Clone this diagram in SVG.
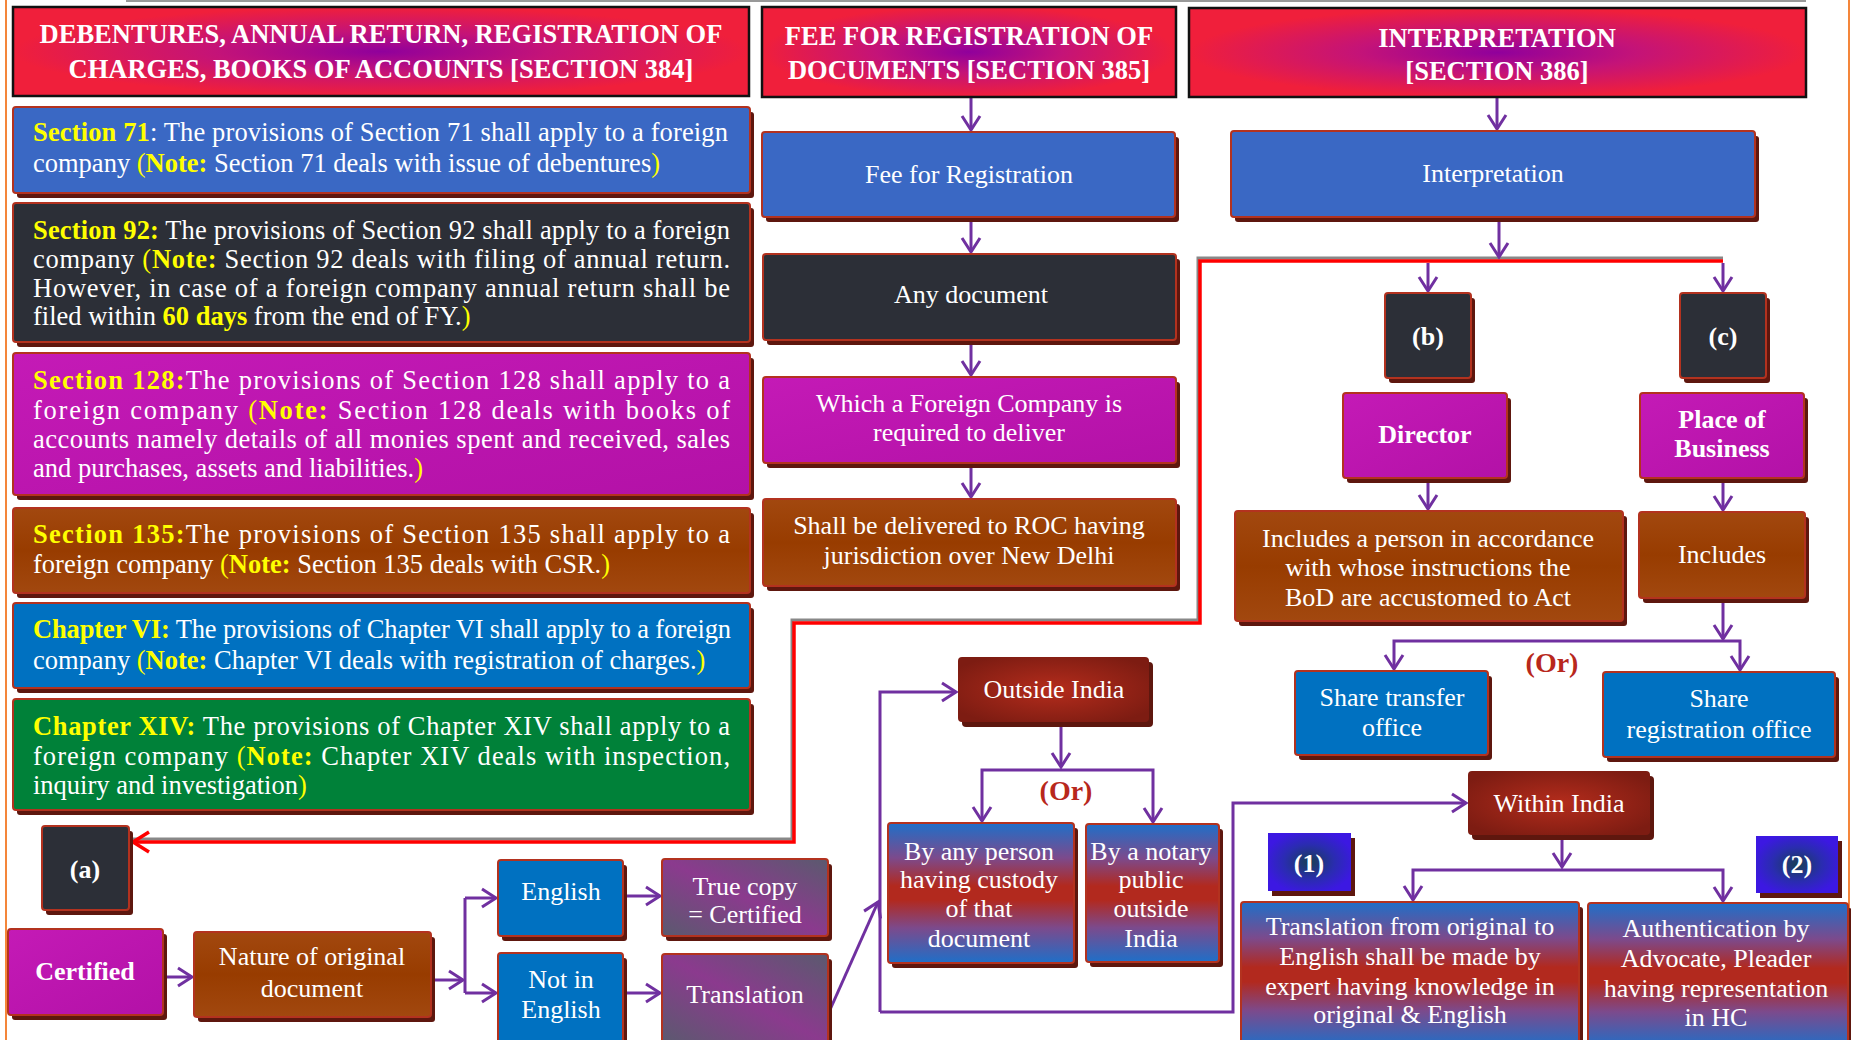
<svg xmlns="http://www.w3.org/2000/svg" width="1851" height="1040" viewBox="0 0 1851 1040">
<defs>
<style>
text{font-family:"Liberation Serif","Times New Roman",serif;fill:#fff}
.nt{font-size:26px;text-anchor:middle}
.hd{font-size:26.5px;font-weight:bold;text-anchor:middle}
.st{font-size:26.5px}
.b{font-weight:bold}
.y{fill:#ffff00}
.or{fill:#b8281c;font-weight:bold;font-size:28px;text-anchor:middle}
.box{stroke:#b3321f;stroke-width:2}
.sh{fill:#5e170e}
.hdr{stroke:#111;stroke-width:2.5;fill:url(#gHdr)}
.cn{stroke:#7030a0;stroke-width:3;fill:none;marker-end:url(#ah)}
.cnp{stroke:#7030a0;stroke-width:3;fill:none}
.red{stroke:#ff0000;stroke-width:3.5;fill:none}
.redsh{stroke:#888;stroke-width:3;fill:none}
.blue1{fill:#3a68c4}
.dark{fill:#2c2f37}
.mag{fill:url(#gMag)}
.brn{fill:url(#gBrn)}
.blue2{fill:#0071c1}
.grn{fill:#008139}
.drd{fill:url(#gDrd)}
.bgr{fill:url(#gBR)}
.pg{fill:url(#gPG)}
.num{fill:url(#gNum)}
</style>
<radialGradient id="gHdr" cx="0.5" cy="0.5" r="0.5">
<stop offset="0" stop-color="#90009c"/>
<stop offset="0.45" stop-color="#c41378"/>
<stop offset="1" stop-color="#f01f3b"/>
</radialGradient>
<linearGradient id="gMag" x1="0" y1="0" x2="1" y2="1">
<stop offset="0" stop-color="#c41ab6"/>
<stop offset="1" stop-color="#b311a7"/>
</linearGradient>
<linearGradient id="gBrn" x1="0" y1="0" x2="0" y2="1">
<stop offset="0" stop-color="#a2480f"/>
<stop offset="0.5" stop-color="#983c00"/>
<stop offset="1" stop-color="#a2480f"/>
</linearGradient>
<radialGradient id="gDrd" cx="0.5" cy="0.5" r="0.6">
<stop offset="0" stop-color="#b42c1c"/>
<stop offset="1" stop-color="#7d1c12"/>
</radialGradient>
<linearGradient id="gBR" x1="0" y1="0" x2="0" y2="1">
<stop offset="0" stop-color="#1f6fc8"/>
<stop offset="0.25" stop-color="#7c4a8c"/>
<stop offset="0.45" stop-color="#b2291e"/>
<stop offset="0.55" stop-color="#b2291e"/>
<stop offset="0.75" stop-color="#7c4a8c"/>
<stop offset="1" stop-color="#1f6fc8"/>
</linearGradient>
<linearGradient id="gPG" x1="1" y1="0" x2="0" y2="1">
<stop offset="0" stop-color="#5a5a6e"/>
<stop offset="0.5" stop-color="#8b3a8e"/>
<stop offset="1" stop-color="#5a5a6e"/>
</linearGradient>
<radialGradient id="gNum" cx="0.5" cy="0.5" r="0.55">
<stop offset="0" stop-color="#173f55"/>
<stop offset="0.55" stop-color="#2a2cb0"/>
<stop offset="1" stop-color="#3c18e2"/>
</radialGradient>
<marker id="ah" markerUnits="userSpaceOnUse" markerWidth="24" markerHeight="24" refX="15" refY="9" orient="auto" overflow="visible">
<path d="M1,0 L15,9 L1,18" fill="none" stroke="#7030a0" stroke-width="3"/>
</marker>
<marker id="rah" markerUnits="userSpaceOnUse" markerWidth="24" markerHeight="24" refX="16" refY="10" orient="auto" overflow="visible">
<path d="M0,0 L16,10 L0,20" fill="none" stroke="#ff0000" stroke-width="3.5"/>
</marker>
</defs>
<rect width="1851" height="1040" fill="#fff"/>
<g id="page-border">
<line x1="126" y1="1" x2="1806" y2="1" stroke="#999" stroke-width="2"/>
<line x1="6" y1="0" x2="6" y2="1040" stroke="#f4863a" stroke-width="2"/>
<line x1="1849" y1="0" x2="1849" y2="1040" stroke="#f4863a" stroke-width="2"/>
</g>

<g id="connectors">
<path class="redsh" d="M1723,258 H1198 V620 H792 V839 H133"/>
<path class="red" d="M1723,261 H1200 V623 H794 V842 H133" marker-end="url(#rah)"/>
<path class="cn" d="M971,97 V130"/>
<path class="cn" d="M971,219 V252"/>
<path class="cn" d="M971,342 V375"/>
<path class="cn" d="M971,465 V497"/>
<path class="cn" d="M1497,97 V129"/>
<path class="cn" d="M1499,219 V257"/>
<path class="cn" d="M1428,263 V291"/>
<path class="cn" d="M1723,263 V291"/>
<path class="cn" d="M1428,480 V509"/>
<path class="cn" d="M1723,480 V510"/>
<path class="cn" d="M1723,600 V639"/>
<path class="cn" d="M1567,641 H1394 V669"/>
<path class="cn" d="M1567,641 H1740 V670"/>
<path class="cn" d="M1061,724 V767"/>
<path class="cn" d="M1067,770 H982 V821"/>
<path class="cn" d="M1067,770 H1153 V822"/>
<path class="cn" d="M1562,837 V867"/>
<path class="cn" d="M1567,870 H1413 V900"/>
<path class="cn" d="M1567,870 H1723 V901"/>
<path class="cn" d="M880,1012 V692 H956"/>
<path class="cn" d="M880,1012 H1233 V803 H1466"/>
<path class="cn" d="M829,1012 L878,902"/>
<path class="cn" d="M163,977 H192"/>
<path class="cn" d="M431,980 H463"/>
<path class="cnp" d="M465,898 V993"/>
<path class="cn" d="M465,898 H496"/>
<path class="cn" d="M465,993 H496"/>
<path class="cn" d="M623,896 H660"/>
<path class="cn" d="M623,993 H660"/>
</g>

<g id="hdr384">
<rect class="hdr" x="13" y="7" width="736" height="89"/>
<text class="hd" x="381" y="43">DEBENTURES, ANNUAL RETURN, REGISTRATION OF</text>
<text class="hd" x="381" y="78">CHARGES, BOOKS OF ACCOUNTS [SECTION 384]</text>
</g>
<g id="hdr385">
<rect class="hdr" x="762" y="7" width="414" height="90"/>
<text class="hd" x="969" y="45">FEE FOR REGISTRATION OF</text>
<text class="hd" x="969" y="79">DOCUMENTS [SECTION 385]</text>
</g>
<g id="hdr386">
<rect class="hdr" x="1189" y="8" width="617" height="89"/>
<text class="hd" x="1497" y="47">INTERPRETATION</text>
<text class="hd" x="1497" y="80">[SECTION 386]</text>
</g>

<g id="sec71">
<rect class="sh" x="17" y="112" width="737" height="86" rx="3"/>
<rect class="box blue1" x="13" y="107" width="737" height="86" rx="3"/>
<text class="st" x="33" y="141" textLength="695" lengthAdjust="spacing"><tspan class="y b">Section 71</tspan>: The provisions of Section 71 shall apply to a foreign</text>
<text class="st" x="33" y="172">company <tspan class="y">(</tspan><tspan class="y b">Note:</tspan> Section 71 deals with issue of debentures<tspan class="y">)</tspan></text>
</g>
<g id="sec92">
<rect class="sh" x="17" y="208" width="737" height="139" rx="3"/>
<rect class="box dark" x="13" y="203" width="737" height="139" rx="3"/>
<text class="st" x="33" y="239" textLength="697" lengthAdjust="spacing"><tspan class="y b">Section 92:</tspan> The provisions of Section 92 shall apply to a foreign</text>
<text class="st" x="33" y="268" textLength="697" lengthAdjust="spacing">company <tspan class="y">(</tspan><tspan class="y b">Note:</tspan> Section 92 deals with filing of annual return.</text>
<text class="st" x="33" y="297" textLength="697" lengthAdjust="spacing">However, in case of a foreign company annual return shall be</text>
<text class="st" x="33" y="325">filed within <tspan class="y b">60 days</tspan> from the end of FY.<tspan class="y">)</tspan></text>
</g>
<g id="sec128">
<rect class="sh" x="17" y="358" width="737" height="142" rx="3"/>
<rect class="box mag" x="13" y="353" width="737" height="142" rx="3"/>
<text class="st" x="33" y="389" textLength="697" lengthAdjust="spacing"><tspan class="y b">Section 128:</tspan>The provisions of Section 128 shall apply to a</text>
<text class="st" x="33" y="419" textLength="697" lengthAdjust="spacing">foreign company <tspan class="y">(</tspan><tspan class="y b">Note:</tspan> Section 128 deals with books of</text>
<text class="st" x="33" y="448" textLength="697" lengthAdjust="spacing">accounts namely details of all monies spent and received, sales</text>
<text class="st" x="33" y="477">and purchases, assets and liabilities.<tspan class="y">)</tspan></text>
</g>
<g id="sec135">
<rect class="sh" x="17" y="513" width="737" height="85" rx="3"/>
<rect class="box brn" x="13" y="508" width="737" height="85" rx="3"/>
<text class="st" x="33" y="543" textLength="697" lengthAdjust="spacing"><tspan class="y b">Section 135:</tspan>The provisions of Section 135 shall apply to a</text>
<text class="st" x="33" y="573">foreign company <tspan class="y">(</tspan><tspan class="y b">Note:</tspan> Section 135 deals with CSR.<tspan class="y">)</tspan></text>
</g>
<g id="ch6">
<rect class="sh" x="17" y="608" width="737" height="85" rx="3"/>
<rect class="box blue2" x="13" y="603" width="737" height="85" rx="3"/>
<text class="st" x="33" y="638" textLength="698" lengthAdjust="spacing"><tspan class="y b">Chapter VI:</tspan> The provisions of Chapter VI shall apply to a foreign</text>
<text class="st" x="33" y="669">company <tspan class="y">(</tspan><tspan class="y b">Note:</tspan> Chapter VI deals with registration of charges.<tspan class="y">)</tspan></text>
</g>
<g id="ch14">
<rect class="sh" x="17" y="704" width="737" height="111" rx="3"/>
<rect class="box grn" x="13" y="699" width="737" height="111" rx="3"/>
<text class="st" x="33" y="735" textLength="697" lengthAdjust="spacing"><tspan class="y b">Chapter XIV:</tspan> The provisions of Chapter XIV shall apply to a</text>
<text class="st" x="33" y="765" textLength="697" lengthAdjust="spacing">foreign company <tspan class="y">(</tspan><tspan class="y b">Note:</tspan> Chapter XIV deals with inspection,</text>
<text class="st" x="33" y="794">inquiry and investigation<tspan class="y">)</tspan></text>
</g>

<g id="fee">
<rect class="sh" x="766" y="137" width="413" height="85" rx="3"/>
<rect class="box blue1" x="762" y="132" width="413" height="85" rx="3"/>
<text class="nt" x="969" y="183">Fee for Registration</text>
</g>
<g id="anydoc">
<rect class="sh" x="767" y="259" width="413" height="86" rx="3"/>
<rect class="box dark" x="763" y="254" width="413" height="86" rx="3"/>
<text class="nt" x="971" y="303">Any document</text>
</g>
<g id="which">
<rect class="sh" x="767" y="382" width="413" height="86" rx="3"/>
<rect class="box mag" x="763" y="377" width="413" height="86" rx="3"/>
<text class="nt" x="969" y="412">Which a Foreign Company is</text>
<text class="nt" x="969" y="441">required to deliver</text>
</g>
<g id="shall">
<rect class="sh" x="767" y="504" width="413" height="87" rx="3"/>
<rect class="box brn" x="763" y="499" width="413" height="87" rx="3"/>
<text class="nt" x="969" y="534">Shall be delivered to ROC having</text>
<text class="nt" x="969" y="564">jurisdiction over New Delhi</text>
</g>

<g id="interp">
<rect class="sh" x="1235" y="136" width="524" height="86" rx="3"/>
<rect class="box blue1" x="1231" y="131" width="524" height="86" rx="3"/>
<text class="nt" x="1493" y="182">Interpretation</text>
</g>
<g id="nb">
<rect class="sh" x="1389" y="298" width="86" height="85" rx="3"/>
<rect class="box dark" x="1385" y="293" width="86" height="85" rx="3"/>
<text class="nt b" x="1428" y="345">(b)</text>
</g>
<g id="nc">
<rect class="sh" x="1684" y="298" width="86" height="85" rx="3"/>
<rect class="box dark" x="1680" y="293" width="86" height="85" rx="3"/>
<text class="nt b" x="1723" y="345">(c)</text>
</g>
<g id="director">
<rect class="sh" x="1347" y="398" width="164" height="85" rx="3"/>
<rect class="box mag" x="1343" y="393" width="164" height="85" rx="3"/>
<text class="nt b" x="1425" y="443">Director</text>
</g>
<g id="place">
<rect class="sh" x="1644" y="398" width="164" height="85" rx="3"/>
<rect class="box mag" x="1640" y="393" width="164" height="85" rx="3"/>
<text class="nt b" x="1722" y="428">Place of</text>
<text class="nt b" x="1722" y="457">Business</text>
</g>
<g id="incperson">
<rect class="sh" x="1239" y="516" width="388" height="110" rx="3"/>
<rect class="box brn" x="1235" y="511" width="388" height="110" rx="3"/>
<text class="nt" x="1428" y="547">Includes a person in accordance</text>
<text class="nt" x="1428" y="576">with whose instructions the</text>
<text class="nt" x="1428" y="606">BoD are accustomed to Act</text>
</g>
<g id="includes">
<rect class="sh" x="1643" y="517" width="166" height="86" rx="3"/>
<rect class="box brn" x="1639" y="512" width="166" height="86" rx="3"/>
<text class="nt" x="1722" y="563">Includes</text>
</g>
<g id="or1">
<text class="or" x="1552" y="672">(Or)</text>
</g>
<g id="sharet">
<rect class="sh" x="1299" y="676" width="193" height="84" rx="3"/>
<rect class="box blue2" x="1295" y="671" width="193" height="84" rx="3"/>
<text class="nt" x="1392" y="706">Share transfer</text>
<text class="nt" x="1392" y="736">office</text>
</g>
<g id="sharer">
<rect class="sh" x="1607" y="677" width="232" height="85" rx="3"/>
<rect class="box blue2" x="1603" y="672" width="232" height="85" rx="3"/>
<text class="nt" x="1719" y="707">Share</text>
<text class="nt" x="1719" y="738">registration office</text>
</g>

<g id="outside">
<rect class="sh" x="962" y="662" width="191" height="65" rx="4"/>
<rect class="drd" x="958" y="657" width="191" height="65" rx="4"/>
<text class="nt" x="1054" y="698">Outside India</text>
</g>
<g id="or2">
<text class="or" x="1066" y="800">(Or)</text>
</g>
<g id="byany">
<rect class="sh" x="892" y="828" width="186" height="140" rx="3"/>
<rect class="box bgr" x="888" y="823" width="186" height="140" rx="3"/>
<text class="nt" x="979" y="860">By any person</text>
<text class="nt" x="979" y="888">having custody</text>
<text class="nt" x="979" y="917">of that</text>
<text class="nt" x="979" y="947">document</text>
</g>
<g id="bynotary">
<rect class="sh" x="1090" y="829" width="133" height="138" rx="3"/>
<rect class="box bgr" x="1086" y="824" width="133" height="138" rx="3"/>
<text class="nt" x="1151" y="860">By a notary</text>
<text class="nt" x="1151" y="888">public</text>
<text class="nt" x="1151" y="917">outside</text>
<text class="nt" x="1151" y="947">India</text>
</g>
<g id="within">
<rect class="sh" x="1472" y="776" width="182" height="64" rx="4"/>
<rect class="drd" x="1468" y="771" width="182" height="64" rx="4"/>
<text class="nt" x="1559" y="812">Within India</text>
</g>
<g id="n1">
<rect class="sh" x="1272" y="838" width="83" height="58"/>
<rect class="num" x="1268" y="833" width="83" height="58"/>
<text class="nt b" x="1309" y="872">(1)</text>
</g>
<g id="n2">
<rect class="sh" x="1760" y="841" width="82" height="57"/>
<rect class="num" x="1756" y="836" width="82" height="57"/>
<text class="nt b" x="1797" y="873">(2)</text>
</g>
<g id="transorig">
<rect class="sh" x="1245" y="907" width="338" height="145" rx="3"/>
<rect class="box bgr" x="1241" y="902" width="338" height="145" rx="3"/>
<text class="nt" x="1410" y="935">Translation from original to</text>
<text class="nt" x="1410" y="965">English shall be made by</text>
<text class="nt" x="1410" y="995">expert having knowledge in</text>
<text class="nt" x="1410" y="1023">original &amp; English</text>
</g>
<g id="auth">
<rect class="sh" x="1592" y="908" width="260" height="145" rx="3"/>
<rect class="box bgr" x="1588" y="903" width="260" height="145" rx="3"/>
<text class="nt" x="1716" y="937">Authentication by</text>
<text class="nt" x="1716" y="967">Advocate, Pleader</text>
<text class="nt" x="1716" y="997">having representation</text>
<text class="nt" x="1716" y="1026">in HC</text>
</g>

<g id="na">
<rect class="sh" x="46" y="831" width="87" height="84" rx="3"/>
<rect class="box dark" x="42" y="826" width="87" height="84" rx="3"/>
<text class="nt b" x="85" y="878">(a)</text>
</g>
<g id="certified">
<rect class="sh" x="12" y="934" width="155" height="86" rx="3"/>
<rect class="box mag" x="8" y="929" width="155" height="86" rx="3"/>
<text class="nt b" x="85" y="980">Certified</text>
</g>
<g id="nature">
<rect class="sh" x="198" y="937" width="237" height="85" rx="3"/>
<rect class="box brn" x="194" y="932" width="237" height="85" rx="3"/>
<text class="nt" x="312" y="965">Nature of original</text>
<text class="nt" x="312" y="997">document</text>
</g>
<g id="english">
<rect class="sh" x="502" y="865" width="125" height="76" rx="3"/>
<rect class="box blue2" x="498" y="860" width="125" height="76" rx="3"/>
<text class="nt" x="561" y="900">English</text>
</g>
<g id="notenglish">
<rect class="sh" x="502" y="958" width="125" height="90" rx="3"/>
<rect class="box blue2" x="498" y="953" width="125" height="90" rx="3"/>
<text class="nt" x="561" y="988">Not in</text>
<text class="nt" x="561" y="1018">English</text>
</g>
<g id="truecopy">
<rect class="sh" x="666" y="864" width="166" height="77" rx="3"/>
<rect class="box pg" x="662" y="859" width="166" height="77" rx="3"/>
<text class="nt" x="745" y="895">True copy</text>
<text class="nt" x="745" y="923">= Certified</text>
</g>
<g id="translation">
<rect class="sh" x="666" y="959" width="166" height="90" rx="3"/>
<rect class="box pg" x="662" y="954" width="166" height="90" rx="3"/>
<text class="nt" x="745" y="1003">Translation</text>
</g>
</svg>
